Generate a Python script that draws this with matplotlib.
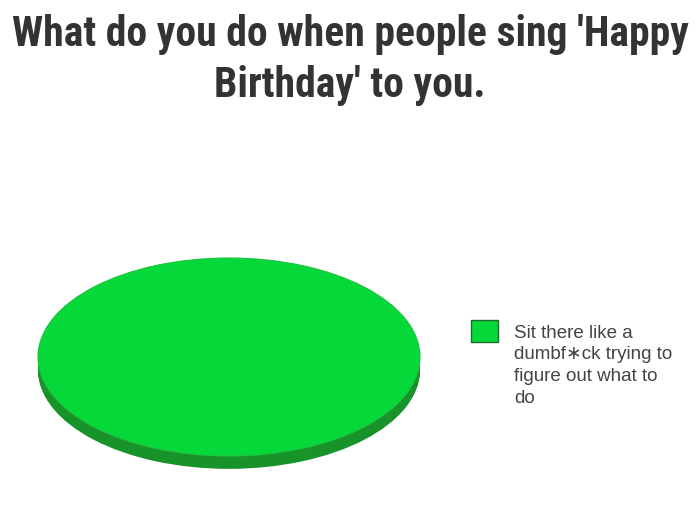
import matplotlib
matplotlib.use("Agg")
import matplotlib.pyplot as plt

# data
labels = ["Sit there like a\ndumbf\u2217ck trying to\nfigure out what to\ndo"]
values = [100]
title = "What do you do when people sing 'Happy\nBirthday' to you."

top_color = "#05d93a"
side_color = "#17932a"

fig = plt.figure(figsize=(7, 5.3), dpi=100)
fig.patch.set_facecolor("white")

# squashed pie -> flat 3d-ish disc
ax = fig.add_axes([38 / 700, 0.0836, 382 / 700, 0.4483])
depth = 0.13
n = 14
for i in range(n, 0, -1):
    off = depth * i / n
    ax.pie(values, colors=[side_color], startangle=90, center=(0, -off),
           wedgeprops=dict(linewidth=0))
wedges, _ = ax.pie(values, colors=[top_color], startangle=90,
                   wedgeprops=dict(linewidth=0.8, edgecolor="#22c040"))
ax.set_aspect("auto")
ax.set_xlim(-1.0, 1.0)
ax.set_ylim(-1.3, 1.1)
ax.axis("off")

fig.text(0.5, 0.974, title, ha="center", va="top",
         family=["Roboto Condensed", "Liberation Sans", "DejaVu Sans"],
         weight="black", fontsize=30, color="#333333", linespacing=1.33)

leg = fig.legend(wedges, labels, loc="upper left",
                 bbox_to_anchor=(454 / 700, 1 - 308 / 530),
                 frameon=False, fontsize=13.5, handlelength=1.45,
                 handleheight=1.45, handletextpad=0.85,
                 labelspacing=0.4)
for t in leg.get_texts():
    t.set_color("#444444")
    t.set_family(["Liberation Sans", "DejaVu Sans"])
    t.set_linespacing(1.35)
h = leg.legend_handles[0]
h.set_edgecolor("#1d6b2a")
h.set_linewidth(1.0)
# put the square next to the first line instead of the middle of the block
h.set_y(h.get_y() + 25)

fig.savefig("out.png", dpi=100)
